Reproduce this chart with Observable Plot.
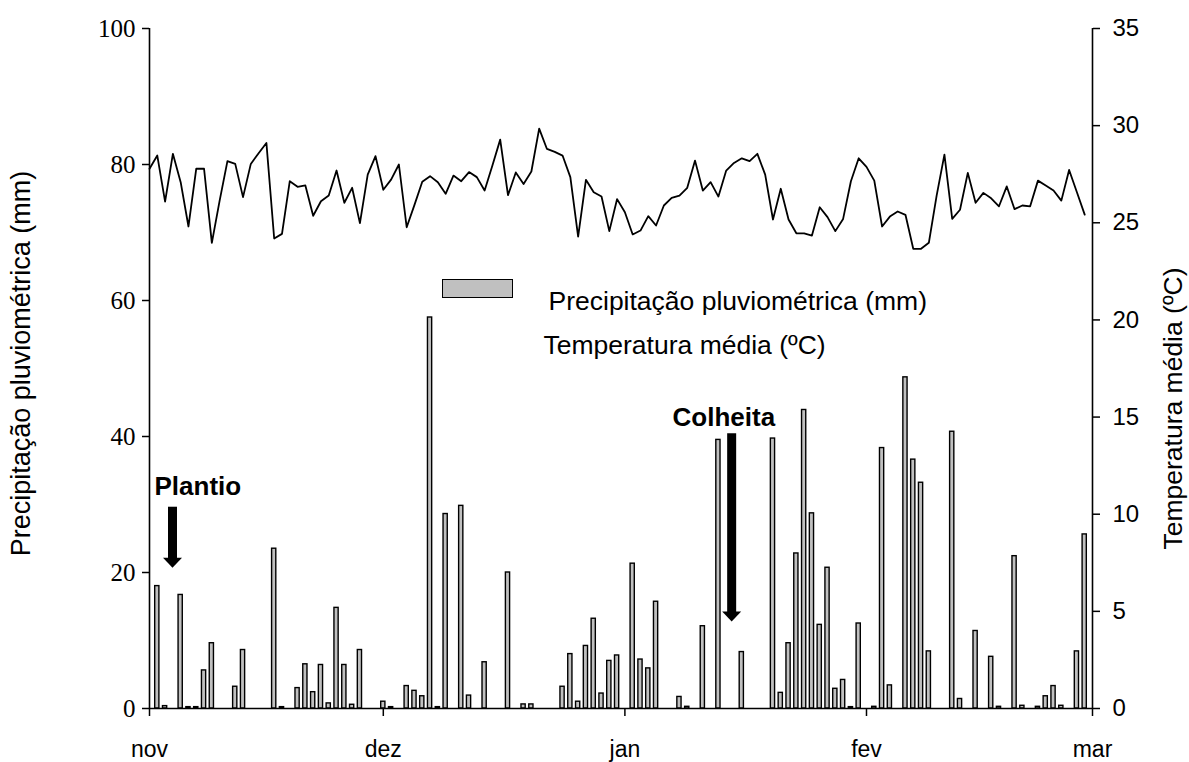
<!DOCTYPE html>
<html><head><meta charset="utf-8">
<script src="https://cdn.jsdelivr.net/npm/d3@7"></script>
<script src="https://cdn.jsdelivr.net/npm/@observablehq/plot@0.6"></script>
<style>
body{margin:0;background:#fff;}
#wrap{position:relative;width:1189px;height:762px;}
</style></head><body><div id="wrap"></div>
<script>
// Month ticks (day offset from 1 Nov) and labels
const monthTicks = [0, 30, 61, 92, 121];
const monthLabels = ["nov", "dez", "jan", "fev", "mar"];
const precipTicks = [0, 20, 40, 60, 80, 100];
const tempTicks = [0, 5, 10, 15, 20, 25, 30, 35];

// Daily rainfall (mm), day 1 .. 120
const precip = [
  18.0, 0.35, 0, 16.7, 0.2, 0.2, 5.6, 9.6, 0, 0,
  3.2, 8.6, 0, 0, 0, 23.5, 0.2, 0, 3.0, 6.5,
  2.4, 6.4, 0.75, 14.8, 6.4, 0.55, 8.6, 0, 0, 1.0,
  0.2, 0, 3.3, 2.6, 1.8, 57.5, 0.2, 28.6, 0, 29.8,
  1.9, 0, 6.8, 0, 0, 20.0, 0, 0.6, 0.6, 0,
  0, 0, 3.2, 8.0, 1.0, 9.2, 13.2, 2.2, 7.0, 7.8,
  0, 21.3, 7.2, 5.9, 15.7, 0, 0, 1.7, 0.25, 0,
  12.1, 0, 39.5, 0, 0, 8.3, 0, 0, 0, 39.7,
  2.3, 9.6, 22.8, 43.9, 28.7, 12.3, 20.7, 2.9, 4.2, 0.2,
  12.5, 0, 0.25, 38.3, 3.4, 0, 48.7, 36.6, 33.2, 8.4,
  0, 0, 40.7, 1.4, 0, 11.4, 0, 7.6, 0.25, 0,
  22.4, 0.4, 0, 0.25, 1.8, 3.3, 0.4, 0, 8.4, 25.6
];

// Daily mean temperature (ºC), points 0 .. 120
const temp = [
  27.78, 28.46, 26.09, 28.55, 27.09, 24.81, 27.79, 27.78, 23.97, 26.14,
  28.17, 28.03, 26.32, 28.03, 28.58, 29.11, 24.19, 24.43, 27.14, 26.85,
  26.92, 25.36, 26.11, 26.40, 27.69, 26.03, 26.80, 24.98, 27.48, 28.43,
  26.70, 27.22, 28.00, 24.77, 25.92, 27.11, 27.40, 27.09, 26.49, 27.43,
  27.14, 27.61, 27.35, 26.66, 27.95, 29.28, 26.42, 27.59, 27.00, 27.64,
  29.85, 28.80, 28.65, 28.46, 27.35, 24.29, 27.21, 26.57, 26.35, 24.57,
  26.22, 25.54, 24.40, 24.60, 25.34, 24.86, 25.89, 26.28, 26.40, 26.80,
  28.20, 26.66, 27.09, 26.35, 27.69, 28.08, 28.32, 28.17, 28.55, 27.48,
  25.17, 26.75, 25.17, 24.46, 24.45, 24.34, 25.80, 25.29, 24.57, 25.20,
  27.14, 28.32, 27.88, 27.17, 24.81, 25.32, 25.58, 25.41, 23.66, 23.66,
  23.97, 26.40, 28.51, 25.20, 25.67, 27.57, 26.03, 26.54, 26.26, 25.85,
  26.87, 25.70, 25.89, 25.85, 27.17, 26.92, 26.66, 26.14, 27.72, 26.57,
  25.42
];

// Annotations (day position, label centre value, arrow top, arrow tip)
const annotLabels = ["Plantio", "Colheita"];
const annotX = [6.2, 73.7];
const annotY = [32.6, 42.8];
const arrowX = [2.95, 74.7];
const arrowTop = [29.6, 40.4];
const arrowTip = [20.7, 12.8];

const legendLabels = ["Precipitação pluviométrica (mm)", "Temperatura média (ºC)"];

const T2P = 100 / 35;
const pData = precip.map((v, i) => ({day: i + 1, v})).filter(d => d.v > 0);
const tData = temp.map((t, i) => ({k: i, t}));
const annots = annotLabels.map((label, i) => ({label, x: annotX[i], y: annotY[i], ax: arrowX[i], top: arrowTop[i], tip: arrowTip[i]}));

const headSymbol = {
  draw(ctx) {
    ctx.moveTo(-9.5, -10);
    ctx.lineTo(9.5, -10);
    ctx.lineTo(0, 0);
    ctx.closePath();
  }
};

const sans = "Liberation Sans, Arial, sans-serif";
const chart = Plot.plot({
  width: 1189, height: 762,
  marginLeft: 149, marginRight: 97, marginTop: 28, marginBottom: 54,
  x: {domain: [0, 121]},
  y: {domain: [0, 100]},
  style: {fontFamily: sans, fontSize: "24px", color: "#000", background: "#fff"},
  marks: [
    Plot.rectY(pData, {x1: d => d.day - 0.27, x2: d => d.day + 0.27, y1: 0, y2: "v",
      fill: "#c0c0c0", stroke: "#000", strokeWidth: 1.4}),
    Plot.line(tData, {x: "k", y: d => d.t * T2P, stroke: "#000", strokeWidth: 1.8}),
    Plot.ruleX([0, 121], {stroke: "#000", strokeWidth: 1.6}),
    Plot.ruleY([0], {stroke: "#000", strokeWidth: 1.6}),
    Plot.axisX({ticks: monthTicks, tickFormat: d => monthLabels[monthTicks.indexOf(d)],
      tickSize: 8, tickPadding: 24, label: null, fontSize: 23, strokeWidth: 1.5}),
    Plot.axisY({ticks: precipTicks, tickSize: 7, tickPadding: 7, label: null,
      fontFamily: "Liberation Serif, Times New Roman, serif", fontSize: 25, strokeWidth: 1.5}),
    Plot.axisY({anchor: "right", ticks: tempTicks.map(t => t * T2P), tickFormat: d => Math.round(d / T2P),
      tickSize: 7, tickPadding: 13, label: null, fontSize: 24, strokeWidth: 1.5}),
    // annotation arrows
    Plot.ruleX(annots, {x: "ax", y1: "top", y2: "tip", stroke: "#000", strokeWidth: 9, insetBottom: 9}),
    Plot.dot(annots, {x: "ax", y: "tip", symbol: headSymbol, fill: "#000", stroke: "none", r: 5}),
    Plot.text(annots, {x: "x", y: "y", text: "label", fontWeight: "bold", fontSize: 26, fill: "#000"}),
    // axis titles
    Plot.text([legendLabels[0]], {frameAnchor: "left", textAnchor: "middle", dx: -128, dy: -5, rotate: -90, fontSize: 27, fill: "#000"}),
    Plot.text([legendLabels[1]], {frameAnchor: "right", textAnchor: "middle", dx: 81, dy: 40, rotate: -90, fontSize: 26.5, fill: "#000"}),
    // legend
    Plot.text([legendLabels[0]], {frameAnchor: "top-left", dx: 399, dy: 263, textAnchor: "start", fontSize: 26.5, fill: "#000"}),
    Plot.text([legendLabels[1]], {frameAnchor: "top-left", dx: 394, dy: 307, textAnchor: "start", fontSize: 26.5, fill: "#000"})
  ]
});
document.getElementById("wrap").appendChild(chart);

// legend swatch
const sw = document.createElement("div");
sw.style.cssText = "position:absolute;left:442px;top:279px;width:71px;height:19px;background:#c0c0c0;border:1.5px solid #000;box-sizing:border-box;";
document.getElementById("wrap").appendChild(sw);
</script>
</body></html>
